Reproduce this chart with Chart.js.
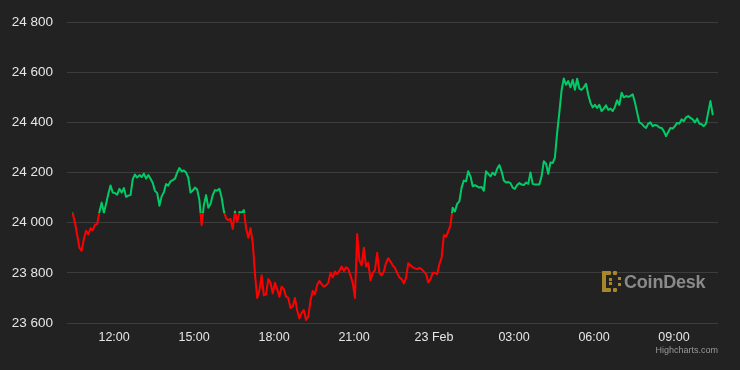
<!DOCTYPE html>
<html>
<head>
<meta charset="utf-8">
<title>BTC 24h price</title>
<script src="https://cdn.jsdelivr.net/npm/chart.js@4.4.1/dist/chart.umd.min.js"></script>
<style>
  html, body { margin: 0; padding: 0; background: #222222; }
  #wrap { position: relative; width: 740px; height: 370px; overflow: hidden; }
  #priceChart { display: block; }
  .brand { position: absolute; left: 602px; top: 271px; height: 21px; }
  .brand-text {
    position: absolute; left: 624px; top: 272.5px;
    font: bold 18px "Liberation Sans", Arial, sans-serif; line-height: 18px;
    color: #8a8a8a; letter-spacing: -0.2px;
  }
  .credits {
    position: absolute; right: 22px; top: 346px;
    font: 9px "Liberation Sans", Arial, sans-serif; line-height: 9px;
    color: #999999;
  }
</style>
</head>
<body>
<div id="wrap">
  <canvas id="priceChart" width="740" height="370" aria-label="Line chart of the price over 24 hours"></canvas>
  <svg class="brand" width="19" height="21" viewBox="0 0 19 21">
    <g fill="#a8872a">
      <rect x="0" y="0" width="4" height="21" rx="1"/>
      <rect x="0" y="0" width="9" height="4" rx="1"/>
      <rect x="0" y="17" width="9" height="4" rx="1"/>
      <rect x="11" y="0" width="4" height="4" rx="1"/>
      <rect x="11" y="17" width="4" height="4" rx="1"/>
      <rect x="7" y="7" width="3" height="3"/>
      <rect x="7" y="11" width="3" height="3"/>
      <rect x="16" y="6" width="3" height="3"/>
      <rect x="16" y="12" width="3" height="3"/>
    </g>
  </svg>
  <div class="brand-text">CoinDesk</div>
  <div class="credits">Highcharts.com</div>
</div>
<script>
// minutes from 12:00 on the first day
const startMinute = -93;
const stepMinutes = 5;
const openPrice = 24037;

const prices = [
  24037, 24000, 23950, 23900, 23888, 23935, 23968, 23953, 23978, 23970,
  23991, 23995, 24043, 24080, 24040, 24076, 24115, 24148, 24120, 24118,
  24112, 24135, 24120, 24138, 24103, 24108, 24110, 24174, 24192, 24180,
  24190, 24182, 24196, 24176, 24190, 24175, 24158, 24127, 24118, 24068,
  24105, 24122, 24154, 24148, 24165, 24170, 24176, 24200, 24218, 24205,
  24208, 24200, 24180, 24120, 24128, 24140, 24132, 24090, 23990, 24070,
  24110, 24060, 24075, 24110, 24130, 24128, 24135, 24100, 24045, 24018,
  24010, 24015, 23975, 24045, 24004, 24043, 24040, 24050, 23978, 23940,
  23978, 23920, 23795, 23700, 23730, 23790, 23710, 23715, 23775, 23760,
  23718, 23760, 23735, 23705, 23745, 23735, 23705, 23700, 23660, 23665,
  23700, 23650, 23618, 23640, 23652, 23612, 23625, 23690, 23728, 23715,
  23752, 23768, 23755, 23745, 23750, 23760, 23800, 23782, 23805, 23795,
  23808, 23825, 23808, 23822, 23815, 23790, 23760, 23700, 23955, 23850,
  23830, 23900, 23825, 23840, 23770, 23800, 23810, 23880, 23800, 23790,
  23805, 23840, 23858, 23845, 23830, 23820, 23800, 23782, 23775, 23758,
  23780, 23838, 23830, 23822, 23818, 23815, 23820, 23815, 23805, 23795,
  23762, 23775, 23800, 23800, 23795, 23835, 23860, 23950, 23945, 23965,
  23990, 24060, 24045, 24075, 24085, 24140, 24168, 24165, 24205, 24185,
  24145, 24150, 24145, 24140, 24142, 24128, 24205, 24195, 24185, 24200,
  24190, 24215, 24230, 24205, 24168, 24160, 24162, 24158, 24140, 24135,
  24150, 24158, 24152, 24150, 24160, 24155, 24200, 24155, 24152, 24152,
  24152, 24185, 24245, 24235, 24195, 24240, 24238, 24260, 24358, 24440,
  24528, 24575, 24550, 24565, 24540, 24570, 24530, 24574, 24535, 24530,
  24540, 24554, 24510, 24478, 24460, 24470, 24458, 24470, 24445, 24455,
  24468, 24450, 24455, 24445, 24462, 24488, 24470, 24518, 24500, 24505,
  24502, 24505, 24512, 24480, 24440, 24400, 24395, 24385, 24378, 24395,
  24400, 24385, 24390, 24388, 24380, 24378, 24365, 24345, 24362, 24378,
  24375, 24385, 24398, 24395, 24412, 24405, 24420, 24425, 24418, 24412,
  24400, 24415, 24395, 24393, 24385, 24395, 24440, 24485, 24432
];

const xTickValues = [0, 180, 360, 540, 720, 900, 1080, 1260];
const xTickLabels = ['12:00', '15:00', '18:00', '21:00', '23 Feb', '03:00', '06:00', '09:00'];
const yTickValues = [23600, 23800, 24000, 24200, 24400, 24600, 24800];

const UP = '#00cc66';
const DOWN = '#ff0000';
const TEXT = '#e6e6e6';
const FONT = '"Liberation Sans", Arial, Helvetica, sans-serif';

const points = prices.map((p, i) => ({ x: startMinute + i * stepMinutes, y: p }));

function zoneColor(ctx) {
  const chart = ctx.chart;
  const area = chart.chartArea;
  if (!area) return UP;
  const yPix = chart.scales.y.getPixelForValue(openPrice);
  let stop = (yPix - area.top) / (area.bottom - area.top);
  stop = Math.min(Math.max(stop, 0), 1);
  const g = chart.ctx.createLinearGradient(0, area.top, 0, area.bottom);
  g.addColorStop(0, UP);
  g.addColorStop(stop, UP);
  g.addColorStop(stop, DOWN);
  g.addColorStop(1, DOWN);
  return g;
}

const bg = {
  id: 'bg',
  beforeDraw(chart) {
    const c = chart.ctx;
    c.save();
    c.fillStyle = '#222222';
    c.fillRect(0, 0, chart.width, chart.height);
    c.restore();
  }
};

new Chart(document.getElementById('priceChart'), {
  type: 'line',
  data: {
    datasets: [{
      data: points,
      borderColor: zoneColor,
      borderWidth: 2,
      borderJoinStyle: 'round',
      borderCapStyle: 'round',
      pointRadius: 0,
      tension: 0,
      fill: false,
    }],
  },
  options: {
    responsive: false,
    animation: false,
    layout: { padding: { top: 17, right: 22, left: 0, bottom: 0 } },
    plugins: { legend: { display: false }, tooltip: { enabled: false } },
    scales: {
      x: {
        type: 'linear',
        min: -106,
        max: 1359,
        afterBuildTicks: (s) => { s.ticks = xTickValues.map((v) => ({ value: v })); },
        afterFit: (s) => { s.height = 47; },
        ticks: {
          autoSkip: false,
          maxRotation: 0,
          padding: 7,
          color: TEXT,
          font: { family: FONT, size: 12.5 },
          callback: (v) => xTickLabels[xTickValues.indexOf(v)],
        },
        grid: { display: false, drawTicks: false },
        border: { display: false },
      },
      y: {
        min: 23600,
        max: 24800,
        afterBuildTicks: (s) => { s.ticks = yTickValues.map((v) => ({ value: v })); },
        afterFit: (s) => { s.width = 67; },
        ticks: {
          padding: 14,
          color: TEXT,
          font: { family: FONT, size: 13.5 },
          callback: (v) => String(v).replace(/(\d{2})(\d{3})$/, '$1 $2'),
        },
        grid: { color: '#3d3d3d', lineWidth: 1, drawTicks: false },
        border: { display: false },
      },
    },
  },
  plugins: [bg],
});
</script>
</body>
</html>
